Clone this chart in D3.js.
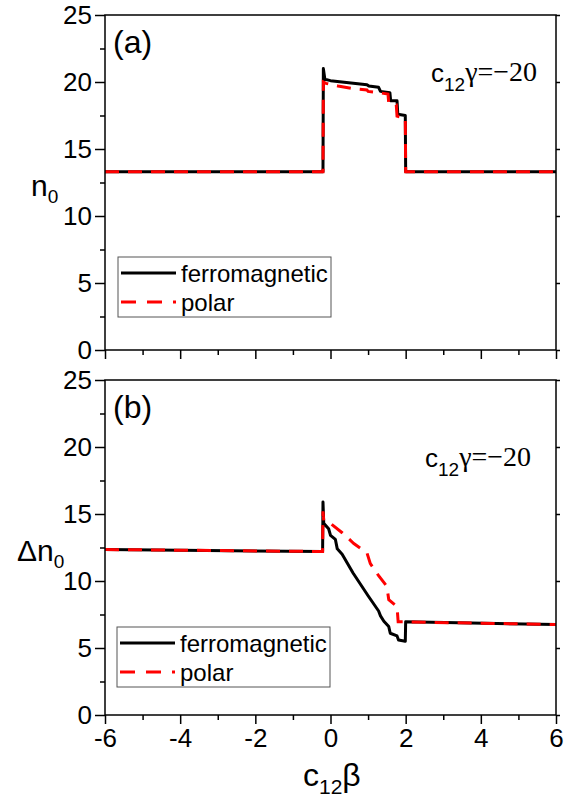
<!doctype html>
<html lang="en">
  <head>
    <meta charset="utf-8">
    <title>n0 and delta n0 vs c12 beta</title>
    <style>
      body { margin: 0; background: #fff; }
      svg text { font-family: "Liberation Sans", Arial, sans-serif; }
      .serif { font-family: "Liberation Serif", "Times New Roman", serif; }
    </style>
  </head>
  <body>
    <script src="https://cdn.jsdelivr.net/npm/d3@7"></script>
    <script>

    // panel (a): n0
    var ferroA_x = [-6, -0.2, -0.19, -0.15, 0, 0.97, 1.02, 1.28, 1.33, 1.58, 1.6, 1.77, 1.79, 1.99, 2.0, 6];
    var ferroA_y = [13.3, 13.3, 21.0, 20.2, 20.1, 19.8, 19.7, 19.6, 19.3, 19.2, 18.6, 18.6, 17.6, 17.5, 13.3, 13.3];
    var polarA_x = [-6, -0.2, -0.19, -0.12, 0.2, 0.6, 0.97, 1.0, 1.3, 1.53, 1.55, 1.75, 1.77, 1.99, 2.0, 6];
    var polarA_y = [13.3, 13.3, 20.0, 19.9, 19.7, 19.5, 19.4, 19.3, 19.2, 19.1, 18.4, 18.3, 17.45, 17.3, 13.3, 13.3];

    // panel (b): delta n0
    var ferroB_x = [-6, -0.21, -0.2, -0.18, -0.05, 0, 0.13, 0.18, 0.31, 0.6, 1.0, 1.28, 1.33, 1.42, 1.55, 1.59, 1.77, 1.81, 1.99, 2.0, 6];
    var ferroB_y = [12.35, 12.2, 15.9, 14.3, 13.9, 13.4, 13.1, 12.4, 12.0, 10.6, 8.9, 7.76, 7.4, 7.0, 6.6, 6.1, 5.9, 5.6, 5.5, 6.95, 6.75];
    var polarB_x = [-6, -0.21, -0.2, -0.18, 0, 0.31, 0.62, 0.97, 1.06, 1.28, 1.5, 1.55, 1.77, 1.8, 2.0, 6];
    var polarB_y = [12.35, 12.2, 15.2, 14.5, 14.3, 13.6, 12.8, 12.1, 11.3, 10.4, 9.6, 8.6, 8.1, 6.95, 6.95, 6.75];

    var xTicks = [-6, -4, -2, 0, 2, 4, 6];
    var xMinor = [-5, -3, -1, 1, 3, 5];
    var yTicks = [0, 5, 10, 15, 20, 25];
    var yMinor = [2.5, 7.5, 12.5, 17.5, 22.5];
    var legendNames = ["ferromagnetic", "polar"];

    var W = 576, H = 800;
    var left = 105, right = 556;

    var svg = d3.select("body").append("svg")
      .attr("width", W)
      .attr("height", H);

    var x = d3.scaleLinear().domain([-6, 6]).range([left, right]);

    function toPts(xs, ys) {
      return xs.map(function(d, i){ return [d, ys[i]]; });
    }

    function panel(top, bottom, ferro, polar, tag, yLabel, delta, ann, leg) {
      var y = d3.scaleLinear().domain([0, 25]).range([bottom, top]);
      var g = svg.append("g");

      var line = d3.line()
        .x(function(d){ return x(d[0]); })
        .y(function(d){ return y(d[1]); });

      g.append("path")
        .datum(ferro)
        .attr("d", line)
        .attr("fill", "none")
        .attr("stroke", "#000")
        .attr("stroke-width", 3)
        .attr("stroke-linejoin", "round");

      g.append("path")
        .datum(polar)
        .attr("d", line)
        .attr("fill", "none")
        .attr("stroke", "#ff0000")
        .attr("stroke-width", 3)
        .attr("stroke-dasharray", "14,9");

      // frame
      g.append("rect")
        .attr("x", left).attr("y", top)
        .attr("width", right - left).attr("height", bottom - top)
        .attr("fill", "none")
        .attr("stroke", "#000")
        .attr("stroke-width", 1.5);

      // left axis
      var ax = g.append("g")
        .attr("transform", "translate(" + left + ",0)")
        .call(d3.axisLeft(y).tickValues(yTicks).tickSize(10).tickPadding(3));
      g.append("g")
        .attr("transform", "translate(" + left + ",0)")
        .call(d3.axisLeft(y).tickValues(yMinor).tickSize(5).tickFormat(""));

      // right axis, short ticks
      g.append("g")
        .attr("transform", "translate(" + right + ",0)")
        .call(d3.axisRight(y).tickValues(yTicks).tickSize(4).tickFormat(""));

      // bottom axis
      var bx = g.append("g")
        .attr("transform", "translate(0," + bottom + ")")
        .call(d3.axisBottom(x).tickValues(xTicks).tickSize(9).tickPadding(5)
          .tickFormat(tag === "(a)" ? "" : function(d){ return d; }));
      g.append("g")
        .attr("transform", "translate(0," + bottom + ")")
        .call(d3.axisBottom(x).tickValues(xMinor).tickSize(5).tickFormat(""));

      g.selectAll(".domain").remove();
      g.selectAll(".tick line").attr("stroke", "#000").attr("stroke-width", 1.5);
      ax.selectAll("text").attr("font-size", 26).attr("fill", "#000")
        .attr("font-family", "Liberation Sans, Arial, sans-serif");
      bx.selectAll("text").attr("font-size", 26).attr("fill", "#000")
        .attr("font-family", "Liberation Sans, Arial, sans-serif");

      // panel tag
      g.append("text")
        .attr("x", left + 8).attr("y", top + 38)
        .attr("font-size", 32)
        .text(tag);

      // y label
      var yl = g.append("text")
        .attr("x", delta ? 17 : 31)
        .attr("y", (top + bottom) / 2 + 13)
        .attr("font-size", 30);
      yl.append("tspan").text(yLabel);
      yl.append("tspan").attr("font-size", 19).attr("dy", 7).text("0");

      // annotation c12 gamma = -20
      var an = g.append("text")
        .attr("x", ann[0]).attr("y", ann[1])
        .attr("font-size", 26);
      an.append("tspan").text("c");
      an.append("tspan").attr("font-size", 19).attr("dy", 9).text("12");
      an.append("tspan").attr("class", "serif").attr("dy", -10).attr("font-size", 28).text("γ=−20");

      // legend
      var lg = g.append("g");
      lg.append("rect")
        .attr("x", leg[0]).attr("y", leg[1])
        .attr("width", 213).attr("height", 60)
        .attr("fill", "#fff")
        .attr("stroke", "#555")
        .attr("stroke-width", 1);
      lg.selectAll(".lgline")
        .data(legendNames)
        .enter()
        .append("line")
        .attr("x1", leg[0] + 3).attr("x2", leg[0] + 58)
        .attr("y1", function(d, i){ return leg[1] + 16 + i * 29; })
        .attr("y2", function(d, i){ return leg[1] + 16 + i * 29; })
        .attr("stroke", function(d, i){ return i === 0 ? "#000" : "#ff0000"; })
        .attr("stroke-width", 3)
        .attr("stroke-dasharray", function(d, i){ return i === 0 ? null : "15,11"; });
      lg.selectAll(".lgtext")
        .data(legendNames)
        .enter()
        .append("text")
        .attr("x", leg[0] + 63)
        .attr("y", function(d, i){ return leg[1] + 25 + i * 29; })
        .attr("font-size", 24)
        .text(function(d){ return d; });

      return y;
    }

    panel(15, 350, toPts(ferroA_x, ferroA_y), toPts(polarA_x, polarA_y),
      "(a)", "n", false, [431, 82], [118, 257]);
    panel(380, 715, toPts(ferroB_x, ferroB_y), toPts(polarB_x, polarB_y),
      "(b)", "Δn", true, [425, 467], [117, 627]);

    // x label
    var xl = svg.append("text")
      .attr("x", 303).attr("y", 786)
      .attr("font-size", 32);
    xl.append("tspan").text("c");
    xl.append("tspan").attr("font-size", 21).attr("dy", 8).text("12");
    xl.append("tspan").attr("dy", -8).text("β");

    </script>
  </body>
</html>
